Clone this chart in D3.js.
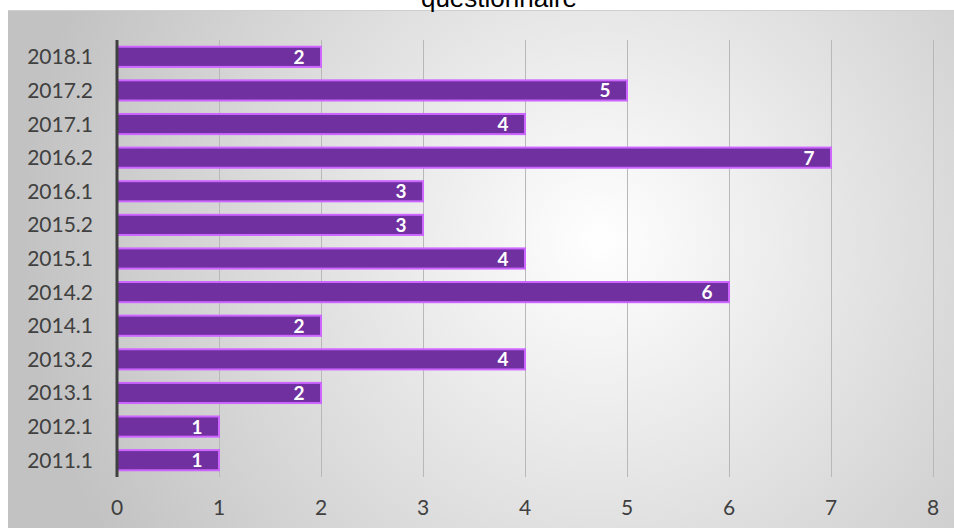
<!DOCTYPE html>
<html><head><meta charset="utf-8">
<script src="https://cdn.jsdelivr.net/npm/d3@7"></script>
<style>body{margin:0;background:#fff;}svg{display:block;}</style>
</head><body>
<svg id="c" width="954" height="528"></svg>
<script>
const categories = ["2018.1","2017.2","2017.1","2016.2","2016.1","2015.2","2015.1","2014.2","2014.1","2013.2","2013.1","2012.1","2011.1"];
const values = [2,5,4,7,3,3,4,6,2,4,2,1,1];
const xTicks = [0,1,2,3,4,5,6,7,8];
const title = "questionnaire";

const svg = d3.select("#c");
const defs = svg.append("defs");
const g = defs.append("radialGradient").attr("id","bg").attr("gradientUnits","userSpaceOnUse")
  .attr("cx",600).attr("cy",240).attr("r",580);
g.append("stop").attr("offset","0%").attr("stop-color","#ffffff");
g.append("stop").attr("offset","100%").attr("stop-color","#c2c2c2");

svg.append("rect").attr("x",8).attr("y",10).attr("width",950).attr("height",520).attr("fill","url(#bg)");
svg.append("line").attr("x1",8).attr("x2",954).attr("y1",10.5).attr("y2",10.5).attr("stroke","#cfcfcf");

svg.append("text").attr("x",499).attr("y",7).attr("text-anchor","middle")
  .attr("font-family","Liberation Sans, Arial").attr("font-size",26).attr("fill","#000").text(title);

const x = d3.scaleLinear().domain([0,8]).range([117,933]);
const y = d3.scaleBand().domain(categories).range([40,477]).paddingInner(0.4).paddingOuter(0.2);

// gridlines
svg.append("g").selectAll("line").data(xTicks.filter(d=>d>0)).join("line")
  .attr("x1",d=>x(d)+0.5).attr("x2",d=>x(d)+0.5).attr("y1",40).attr("y2",477)
  .attr("stroke","#b8b8b8").attr("stroke-width",1);

// bars
svg.append("g").selectAll("rect").data(values).join("rect")
  .attr("x",x(0)).attr("y",(d,i)=>y(categories[i]))
  .attr("width",d=>x(d)-x(0)).attr("height",y.bandwidth())
  .attr("fill","#7030a0").attr("stroke","#cc66ff").attr("stroke-width",2);

// data labels
svg.append("g").selectAll("text").data(values).join("text")
  .attr("x",d=>x(d)-22).attr("y",(d,i)=>y(categories[i])+y.bandwidth()/2+7)
  .attr("text-anchor","middle").attr("font-family","Lato, Open Sans, sans-serif")
  .attr("font-weight","bold").attr("font-size",19).attr("fill","#fff").text(d=>d);

// y axis line
svg.append("line").attr("x1",x(0)).attr("x2",x(0)).attr("y1",40).attr("y2",477)
  .attr("stroke","#404040").attr("stroke-width",3);

// y labels
svg.append("g").selectAll("text").data(categories).join("text")
  .attr("x",93).attr("y",d=>y(d)+y.bandwidth()/2+7.5)
  .attr("text-anchor","end").attr("font-family","Lato, Open Sans, sans-serif")
  .attr("font-size",21).attr("fill","#404040").text(d=>d);

// x labels
svg.append("g").selectAll("text").data(xTicks).join("text")
  .attr("x",d=>x(d)).attr("y",515)
  .attr("text-anchor","middle").attr("font-family","Lato, Open Sans, sans-serif")
  .attr("font-size",21).attr("fill","#404040").text(d=>d);
</script>
</body></html>
